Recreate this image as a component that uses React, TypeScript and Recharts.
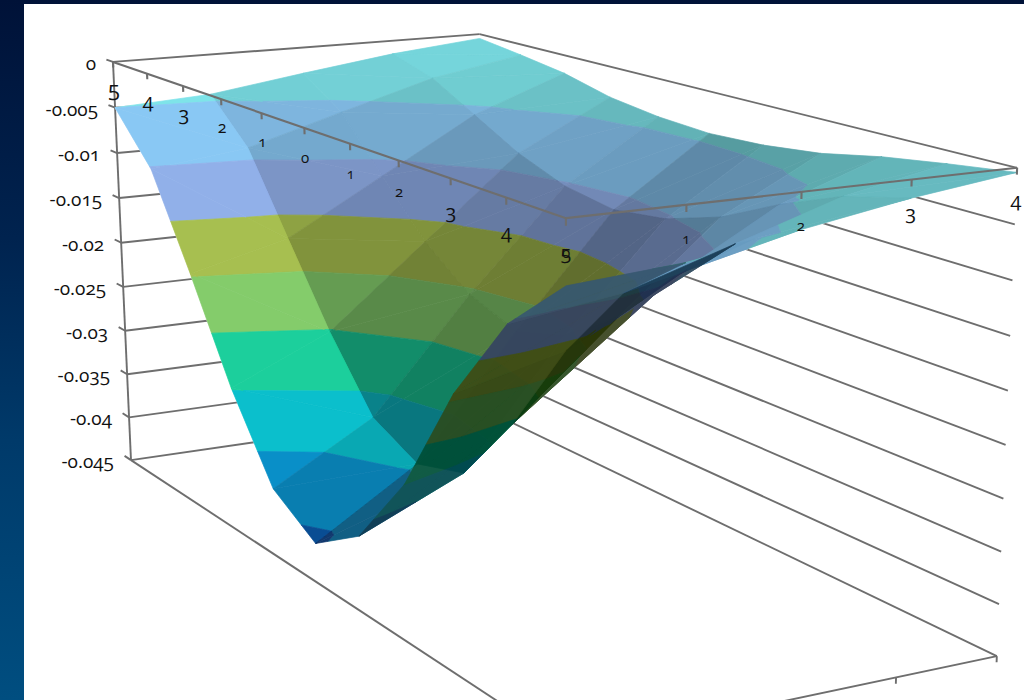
import React from "react";
import { ScatterChart, Scatter, XAxis, YAxis } from "recharts";

// ---------- data ----------
const depthCategories = [0, 1, 2, 3, 4];
const widthLabels = ["5", "4", "3", "2", "1", "0", "1", "2", "3", "4", "5"];
const depthLabels = ["0", "1", "2", "3", "4"];
const valueTicks = [0, -0.005, -0.01, -0.015, -0.02, -0.025, -0.03, -0.035, -0.04, -0.045];
const row0 = [-0.005, -0.0102, -0.0197, -0.0298, -0.038, -0.041, -0.0375, -0.0298, -0.019, -0.0107, -0.0055];
const row1 = [-0.0044, -0.0089, -0.0171, -0.0252, -0.0321, -0.0345, -0.0329, -0.0256, -0.0165, -0.0093, -0.0048];
const row2 = [-0.0029, -0.0059, -0.0114, -0.0168, -0.0205, -0.0223, -0.0206, -0.0168, -0.011, -0.0062, -0.0032];
const row3 = [-0.0015, -0.003, -0.0057, -0.0084, -0.0103, -0.0111, -0.0103, -0.0084, -0.0055, -0.0031, -0.0016];
const row4 = [-0.0005, -0.0012, -0.002, -0.0033, -0.004, -0.0043, -0.004, -0.0033, -0.0021, -0.0012, -0.0004];
const surface = [row0, row1, row2, row3, row4];
const bandColors = ["#7ee4ea", "#8ac8f4", "#92b0ea", "#a8c050", "#84cc6c", "#1cd09c", "#0cc0cc", "#0890c8", "#0a58a8"];

// ---------- box projection: corner (s, t, d) -> picture position ----------
const corners: number[][] = [
  [0, 0, 0, 113, 62], [1, 0, 0, 567, 218], [1, 1, 0, 1017, 168], [0, 1, 0, 479, 34],
  [0, 0, 1, 131, 460], [1, 0, 1, 566, 747], [1, 1, 1, 997, 656], [0, 1, 1, 484, 409],
];
function solveCamera(): number[] {
  const n = 11;
  const A: number[][] = Array.from({ length: n }, () => new Array(n + 1).fill(0));
  const add = (r: number[], b: number) => {
    for (let i = 0; i < n; i++) {
      for (let j = 0; j < n; j++) A[i][j] += r[i] * r[j];
      A[i][n] += r[i] * b;
    }
  };
  for (const [s, t, d, x, y] of corners) {
    add([s, t, d, 1, 0, 0, 0, 0, -x * s, -x * t, -x * d], x);
    add([0, 0, 0, 0, s, t, d, 1, -y * s, -y * t, -y * d], y);
  }
  for (let i = 0; i < n; i++) {
    let p = i;
    for (let k = i + 1; k < n; k++) if (Math.abs(A[k][i]) > Math.abs(A[p][i])) p = k;
    [A[i], A[p]] = [A[p], A[i]];
    for (let k = 0; k < n; k++) {
      if (k === i) continue;
      const f = A[k][i] / A[i][i];
      for (let j = i; j <= n; j++) A[k][j] -= f * A[i][j];
    }
  }
  return A.map((r, i) => r[n] / r[i]);
}
const cam = solveCamera();
const ZMIN = -0.045;
function project(u: number, v: number, z: number) {
  const s = (u + 5) / 10, t = v / 4, d = z / ZMIN;
  const w = cam[8] * s + cam[9] * t + cam[10] * d + 1;
  return {
    x: (cam[0] * s + cam[1] * t + cam[2] * d + cam[3]) / w,
    y: (cam[4] * s + cam[5] * t + cam[6] * d + cam[7]) / w,
  };
}

// ---------- colour helpers ----------
function shadeColor(hex: string, f: number, alpha: number) {
  const c = [1, 3, 5].map((i) => parseInt(hex.slice(i, i + 2), 16));
  const out = c.map((v) => Math.max(0, Math.min(255, Math.round((v * f - 255 * (1 - alpha)) / alpha))));
  return `rgb(${out.join(",")})`;
}

// ---------- band clipping ----------
type P3 = [number, number, number];
function clip(poly: P3[], limit: number, keepAbove: boolean): P3[] {
  const out: P3[] = [];
  const inside = (p: P3) => (keepAbove ? p[2] >= limit : p[2] <= limit);
  for (let i = 0; i < poly.length; i++) {
    const a = poly[i], b = poly[(i + 1) % poly.length];
    if (inside(a)) out.push(a);
    if (inside(a) !== inside(b)) {
      const k = (limit - a[2]) / (b[2] - a[2]);
      out.push([a[0] + k * (b[0] - a[0]), a[1] + k * (b[1] - a[1]), limit]);
    }
  }
  return out;
}
const underStrip0 = [0.66, 0.44, 0.44, 0.46, 0.5];
const darkByStrip = [0.44, 0.42, 0.55, 0.74];
const litStrip0 = [1, 1, 1, 1, 0.88];
const LIT_ALPHA = 0.96;
const DARK_ALPHA = 0.82;

type Poly = { pts: { x: number; y: number }[]; fill: string };
type Layer = { alpha: number; polys: Poly[] };
function buildLayers(): Layer[] {
  const litLayers: Layer[] = [];
  const darkLayers: Layer[] = [];
  for (let vi = depthCategories.length - 2; vi >= 0; vi--) {
    const lit: Layer = { alpha: LIT_ALPHA, polys: [] };
    const dark: Layer = { alpha: vi === 0 ? 0.93 : DARK_ALPHA, polys: [] };
    for (let ui = 0; ui < 10; ui++) {
      const u0 = ui - 5, u1 = ui - 4;
      const a: P3 = [u0, vi, surface[vi][ui]];
      const b: P3 = [u1, vi, surface[vi][ui + 1]];
      const c: P3 = [u1, vi + 1, surface[vi + 1][ui + 1]];
      const e: P3 = [u0, vi + 1, surface[vi + 1][ui]];
      const q = [a, b, c, e].map((p) => project(p[0], p[1], p[2]));
      let area = 0;
      q.forEach((p, i) => {
        const n = q[(i + 1) % 4];
        area += p.x * n.y - n.x * p.y;
      });
      const under = area > 0 || (vi === 0 && ui >= 5);
      const slope = Math.abs((c[2] + e[2] - a[2] - b[2]) / 2);
      let f: number;
      if (under) f = vi === 0 ? underStrip0[Math.max(0, ui - 5)] : darkByStrip[vi];
      else {
        f = vi === 0 ? litStrip0[Math.min(ui, 4)] : 0.98 - 30 * slope;
        if (vi > 0 && ui >= 5) f *= 0.88;
      }
      const layer = under ? dark : lit;
      for (const tri of [[a, b, c], [a, c, e]] as P3[][]) {
        bandColors.forEach((col, bi) => {
          const hi = -0.005 * bi, lo = -0.005 * (bi + 1);
          let poly = clip(tri, hi, false);
          if (poly.length) poly = clip(poly, lo, true);
          if (poly.length < 3) return;
          layer.polys.push({
            pts: poly.map((p) => project(p[0], p[1], p[2])),
            fill: shadeColor(col, f, layer.alpha),
          });
        });
      }
    }
    if (lit.polys.length) litLayers.push(lit);
    if (dark.polys.length) darkLayers.push(dark);
  }
  return [...litLayers, ...darkLayers];
}
const layers = buildLayers();
const allPolys = layers.flatMap((l) => l.polys.map((p) => ({ ...p, fill: "#fff" })));

// ---------- frame lines ----------
const frameColor = "#6e6e6e";
type Seg = { a: [number, number, number]; b: [number, number, number] };
const backLines: Seg[] = [];
valueTicks.forEach((z) => {
  backLines.push({ a: [-5, 0, z], b: [-5, 4, z] });
  backLines.push({ a: [5, 4, z], b: [-5, 4, z] });
  backLines.push({ a: [-5.2, 0, z], b: [-5, 0, z] });
});
backLines.push({ a: [-5, 0, 0], b: [-5, 0, ZMIN] });
backLines.push({ a: [-5, 0, ZMIN], b: [5, 0, ZMIN] });
backLines.push({ a: [5, 0, ZMIN], b: [5, 4, ZMIN] });
depthCategories.forEach((v) => backLines.push({ a: [5, v, ZMIN], b: [5, v, ZMIN - 0.0006] }));
const frontLines: Seg[] = [
  { a: [-5, 0, 0], b: [5, 0, 0] },
  { a: [5, 0, 0], b: [5, 4, 0] },
];
widthLabels.forEach((_, i) => frontLines.push({ a: [i - 5, 0, 0], b: [i - 5, 0, -0.0006] }));
depthCategories.forEach((v) => frontLines.push({ a: [5, v, 0], b: [5, v, -0.0006] }));

const segLine = (width: number) => (p: any) => {
  const pts = p.points || [];
  if (pts.length < 2) return <g />;
  return <line x1={pts[0].x} y1={pts[0].y} x2={pts[1].x} y2={pts[1].y} stroke={frameColor} strokeWidth={width} />;
};
// One scatter series per layer: its points come back from the chart's scales and are cut into the layer's polygons.
const layerLine = (polys: Poly[], alpha: number) => (p: any) => {
  const pts = p.points || [];
  let at = 0;
  return (
    <g opacity={alpha}>
      {polys.map((poly, i) => {
        const part = pts.slice(at, at + poly.pts.length);
        at += poly.pts.length;
        return (
          <polygon
            key={i}
            points={part.map((q: any) => `${q.x},${q.y}`).join(" ")}
            fill={poly.fill}
            stroke={poly.fill}
            strokeWidth={0.7}
            strokeLinejoin="round"
          />
        );
      })}
    </g>
  );
};
const noDot = () => <g />;

const FONT = "'Open Sans', Lato, sans-serif";
const widthSizes = [22, 20, 20, 16, 15, 15, 14, 15, 20, 20, 20];
const depthSizes = [15, 14, 15, 20, 20];
const LABEL_Z = -0.0027;
const textData = [
  ...widthLabels.map((t, i) => ({ ...project(i - 5, 0, LABEL_Z), t, size: widthSizes[i], anchor: "middle", dx: 0, dy: widthSizes[i] * 0.45 })),
  ...depthLabels.map((t, i) => ({ ...project(5, i, LABEL_Z), t, size: depthSizes[i], anchor: "middle", dx: 0, dy: depthSizes[i] * 0.45 })),
  ...valueTicks.map((z) => ({ ...project(-5, 0, z), t: String(z), size: 19, anchor: "end", dx: -17, dy: 8 })),
];
const textShape = (p: any) => {
  const d = p.payload;
  return (
    <text
      x={p.cx + d.dx}
      y={p.cy + d.dy}
      textAnchor={d.anchor}
      fontSize={d.size}
      fontFamily={FONT}
      fill="#111"
      style={{ fontVariantNumeric: "oldstyle-nums", fontFeatureSettings: '"onum"' }}
    >
      {d.t}
    </text>
  );
};

const toPts = (s: Seg) => [project(...s.a), project(...s.b)];
const flat = (polys: Poly[]) => polys.flatMap((p) => p.pts);

export default function App() {
  return (
    <div
      style={{
        position: "absolute", left: 0, top: 0, width: 1024, height: 700, overflow: "hidden",
        background: "linear-gradient(180deg,#001238 0%,#00234f 34%,#003a6a 63%,#004e80 100%)",
      }}
    >
      <div style={{ position: "absolute", left: 24, top: 4, width: 1000, height: 696, background: "#fff" }} />
      <div style={{ position: "absolute", left: 0, top: 0 }}>
        <ScatterChart width={1024} height={700} margin={{ top: 0, right: 0, bottom: 0, left: 0 }}>
          <XAxis type="number" dataKey="x" domain={[0, 1024]} hide allowDataOverflow />
          <YAxis type="number" dataKey="y" domain={[0, 700]} reversed hide allowDataOverflow />
          {backLines.map((s, i) => (
            <Scatter key={"b" + i} data={toPts(s)} shape={noDot} line={segLine(1.9)} isAnimationActive={false} />
          ))}
          <Scatter key="base" data={flat(allPolys)} shape={noDot} line={layerLine(allPolys, 1)} isAnimationActive={false} />
          {layers.map((l, i) => (
            <Scatter key={"l" + i} data={flat(l.polys)} shape={noDot} line={layerLine(l.polys, l.alpha)} isAnimationActive={false} />
          ))}
          {frontLines.map((s, i) => (
            <Scatter key={"f" + i} data={toPts(s)} shape={noDot} line={segLine(2.1)} isAnimationActive={false} />
          ))}
          <Scatter data={textData} shape={textShape} isAnimationActive={false} />
        </ScatterChart>
      </div>
    </div>
  );
}
